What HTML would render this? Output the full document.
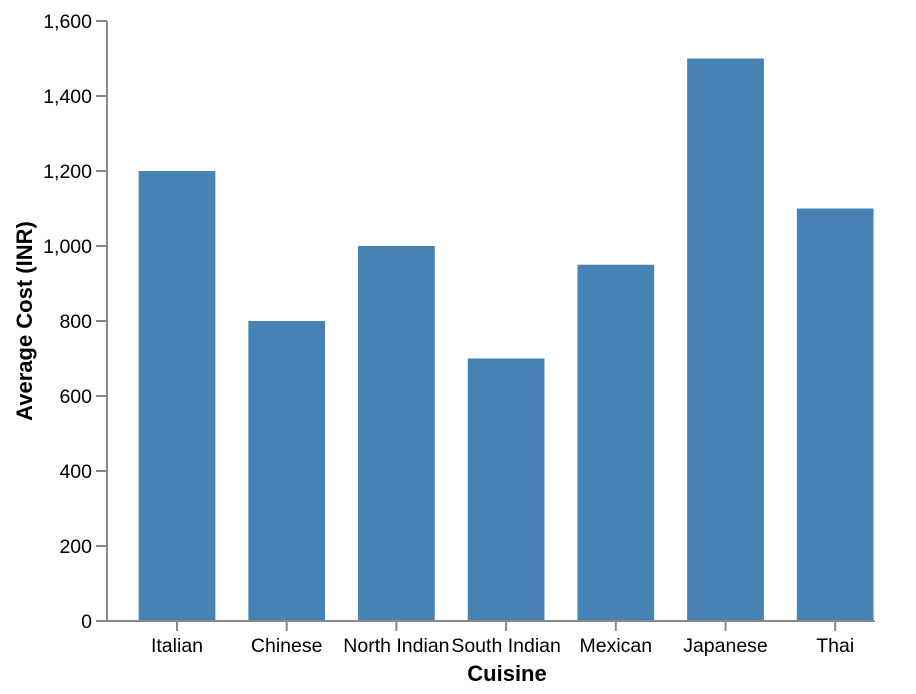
<!DOCTYPE html>
<html><head><meta charset="utf-8"><style>
body{margin:0;background:#fff;}
svg{display:block;font-family:"Liberation Sans",Arial,sans-serif;}
</style></head><body>
<svg id="chart" width="916" height="694">
</svg>
<script>
const categories=["Italian","Chinese","North Indian","South Indian","Mexican","Japanese","Thai"];
const values=[1200,800,1000,700,950,1500,1100];
const yTicks=[0,200,400,600,800,1000,1200,1400,1600];
const yTickLabels=["0","200","400","600","800","1,000","1,200","1,400","1,600"];
const NS="http://www.w3.org/2000/svg";
const svg=document.getElementById('chart');
const x0=107,step=109.7,bw=76.7,yTop=21,yBot=621,yMax=1600;
function yS(v){return yBot-(v/yMax)*(yBot-yTop);}
function mk(t,a,p){const e=document.createElementNS(NS,t);for(const k in a)e.setAttribute(k,a[k]);(p||svg).appendChild(e);return e;}
categories.forEach((c,i)=>{
  const cx=177+i*step;
  const r=mk('rect',{x:cx-bw/2,y:yS(values[i]),width:bw,height:yBot-yS(values[i]),fill:'#4682b4'});
  
  
  mk('line',{x1:cx,x2:cx,y1:yBot,y2:yBot+10,stroke:'#888','stroke-width':2});
  const t=mk('text',{x:cx,y:yBot+31,'text-anchor':'middle','font-size':19.5,fill:'#000'});
  t.textContent=c;
  
  
});
yTicks.forEach((v,i)=>{
  const y=yS(v);
  mk('line',{x1:x0-11,x2:x0,y1:y,y2:y,stroke:'#888','stroke-width':2});
  const t=mk('text',{x:x0-15,y:y+7,'text-anchor':'end','font-size':19.5,fill:'#000'});
  t.textContent=yTickLabels[i];
  
  
});
const ax=mk('line',{x1:x0,x2:x0,y1:yTop,y2:yBot+1,stroke:'#888','stroke-width':2});


const bx=mk('line',{x1:x0-1,x2:x0+7*step,y1:yBot,y2:yBot,stroke:'#888','stroke-width':2});


const xt=mk('text',{x:507,y:681,'text-anchor':'middle','font-size':22,'font-weight':'bold'});
xt.textContent='Cuisine';


const yt=mk('text',{x:0,y:0,'text-anchor':'middle','font-size':22,'font-weight':'bold',transform:'translate(32,321) rotate(-90)'});
yt.textContent='Average Cost (INR)';


</script>
</body></html>
